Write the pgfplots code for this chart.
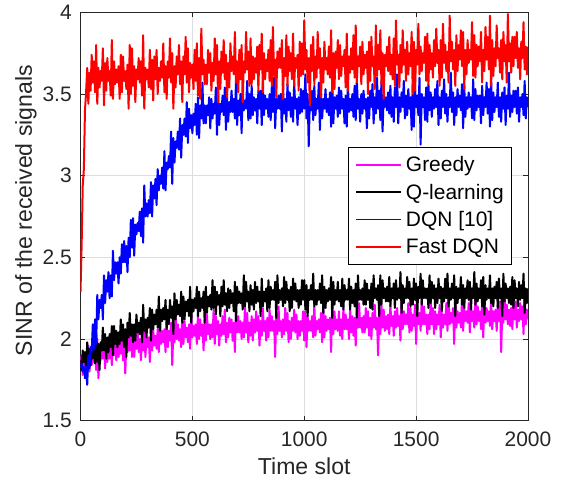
\documentclass[border=0pt]{standalone}
\usepackage{pgfplots}
\pgfplotsset{compat=1.18}
\usepackage{pgfplotstable}
\usepackage{fontspec}
\setmainfont{Liberation Sans}
\definecolor{axgray}{rgb}{0.15,0.15,0.15}
\definecolor{gridgray}{rgb}{0.87,0.87,0.87}
\definecolor{mmag}{rgb}{1,0,1}
\definecolor{mblue}{rgb}{0,0,1}
\definecolor{mred}{rgb}{1,0,0}
\pgfplotsset{
  mylegline/.style={legend image code/.code={\fill[##1] (0pt,-0.6pt) rectangle (33.75pt,0.6pt);}},
}
\pgfplotstableread{
x greedy qlearn dqn fast
0 1.82 1.87 1.83 2.29
5 1.90 1.81 1.85 2.57
10 1.78 1.93 1.80 2.94
15 1.88 1.86 1.83 3.04
20 1.92 1.92 1.76 3.40
25 1.76 1.80 1.83 3.51
30 1.84 1.98 1.72 3.66
35 1.96 1.87 1.90 3.44
40 1.80 1.94 1.82 3.63
45 1.91 1.84 1.95 3.52
50 1.84 1.95 1.92 3.74
55 1.91 1.88 2.09 3.57
60 1.86 1.99 1.94 3.70
65 1.95 1.85 2.12 3.51
70 1.81 2.04 1.97 3.80
75 2.00 1.86 2.27 3.44
80 1.76 1.97 2.12 3.66
85 1.93 1.81 2.24 3.54
90 1.87 1.98 2.19 3.64
95 1.94 1.93 2.27 3.58
100 1.88 2.07 2.12 3.78
105 2.02 1.93 2.39 3.43
110 1.82 2.03 2.22 3.69
115 1.97 1.88 2.36 3.52
120 1.86 2.01 2.29 3.72
125 1.95 1.92 2.41 3.58
130 1.88 2.03 2.25 3.64
135 1.97 1.95 2.39 3.49
140 1.84 2.08 2.26 3.83
145 2.02 1.90 2.54 3.47
150 1.90 2.08 2.36 3.70
155 2.01 1.97 2.47 3.56
160 1.87 2.05 2.40 3.65
165 1.98 1.95 2.47 3.57
170 1.89 2.04 2.34 3.67
175 1.97 1.97 2.50 3.47
180 1.91 2.12 2.40 3.74
185 2.04 1.99 2.58 3.51
190 1.87 2.09 2.47 3.73
195 2.02 1.95 2.60 3.58
200 1.79 2.06 2.47 3.64
205 1.98 1.89 2.57 3.53
210 1.92 2.10 2.41 3.68
215 2.02 2.01 2.62 3.41
220 1.93 2.16 2.50 3.80
225 2.08 2.02 2.73 3.50
230 1.89 2.09 2.56 3.78
235 2.00 1.98 2.74 3.55
240 1.89 2.09 2.51 3.67
245 1.99 1.99 2.70 3.45
250 1.94 2.15 2.64 3.65
255 2.06 2.04 2.71 3.59
260 1.92 2.10 2.66 3.72
265 2.00 2.03 2.78 3.57
270 1.87 2.13 2.63 3.70
275 2.02 1.98 2.80 3.49
280 1.93 2.21 2.59 3.86
285 2.10 2.05 2.94 3.41
290 1.89 2.12 2.75 3.66
295 2.01 2.01 2.83 3.59
300 1.95 2.13 2.75 3.65
305 2.01 2.07 2.85 3.54
310 1.86 2.19 2.77 3.77
315 2.06 1.99 2.96 3.53
320 1.93 2.18 2.75 3.71
325 2.06 2.06 2.94 3.46
330 1.96 2.15 2.86 3.73
335 2.02 2.09 2.98 3.59
340 1.94 2.18 2.82 3.77
345 2.06 2.07 3.04 3.50
350 1.92 2.26 2.91 3.66
355 2.13 2.05 3.00 3.58
360 1.97 2.18 2.95 3.70
365 2.05 2.11 3.05 3.60
370 1.98 2.19 2.92 3.81
375 2.06 2.12 3.15 3.51
380 1.92 2.24 2.91 3.67
385 2.10 2.06 3.08 3.47
390 1.95 2.18 3.04 3.70
395 2.05 2.09 3.12 3.60
400 1.99 2.24 3.05 3.84
405 2.10 2.13 3.27 3.57
410 1.84 2.20 2.95 3.75
415 2.05 2.03 3.23 3.41
420 1.98 2.28 3.08 3.67
425 2.14 2.12 3.21 3.54
430 2.00 2.24 3.17 3.73
435 2.09 2.15 3.27 3.62
440 1.99 2.21 3.16 3.80
445 2.06 2.14 3.35 3.56
450 1.95 2.29 3.11 3.70
455 2.14 2.10 3.31 3.45
460 1.97 2.26 3.25 3.73
465 2.11 2.12 3.35 3.62
470 2.01 2.23 3.24 3.85
475 2.07 2.17 3.45 3.57
480 1.98 2.24 3.20 3.78
485 2.09 2.14 3.41 3.51
490 1.94 2.32 3.29 3.69
495 2.16 2.10 3.37 3.60
500 2.01 2.24 3.26 3.68
505 2.08 2.17 3.38 3.53
510 2.02 2.25 3.31 3.77
515 2.09 2.19 3.44 3.58
520 1.97 2.32 3.25 3.81
525 2.15 2.14 3.48 3.49
530 2.00 2.29 3.23 3.72
535 2.12 2.17 3.43 3.47
540 2.02 2.25 3.35 3.90
545 2.09 2.19 3.57 3.62
550 1.93 2.29 3.32 3.71
555 2.12 2.10 3.43 3.56
560 1.99 2.32 3.32 3.68
565 2.15 2.16 3.43 3.56
570 2.03 2.26 3.37 3.77
575 2.09 2.20 3.48 3.63
580 2.00 2.27 3.29 3.75
585 2.09 2.18 3.47 3.52
590 2.01 2.36 3.35 3.69
595 2.18 2.19 3.44 3.58
600 1.97 2.32 3.38 3.84
605 2.14 2.15 3.54 3.62
610 2.03 2.29 3.25 3.80
615 2.11 2.21 3.51 3.45
620 1.96 2.27 3.31 3.70
625 2.09 2.14 3.44 3.53
630 2.02 2.32 3.39 3.76
635 2.14 2.20 3.49 3.63
640 2.03 2.36 3.37 3.83
645 2.18 2.21 3.54 3.59
650 1.98 2.28 3.28 3.74
655 2.10 2.17 3.48 3.48
660 2.01 2.31 3.33 3.69
665 2.13 2.19 3.45 3.54
670 2.04 2.30 3.39 3.81
675 2.12 2.22 3.52 3.64
680 1.99 2.28 3.39 3.73
685 2.10 2.17 3.47 3.62
690 1.92 2.35 3.35 3.88
695 2.17 2.11 3.58 3.57
700 2.04 2.32 3.31 3.70
705 2.14 2.22 3.46 3.51
710 2.04 2.29 3.37 3.77
715 2.11 2.22 3.50 3.59
720 2.00 2.28 3.26 3.80
725 2.10 2.18 3.52 3.45
730 2.01 2.39 3.40 3.70
735 2.20 2.20 3.46 3.63
740 2.04 2.35 3.41 3.88
745 2.16 2.23 3.58 3.65
750 1.98 2.29 3.34 3.76
755 2.10 2.17 3.50 3.55
760 2.02 2.33 3.35 3.84
765 2.14 2.21 3.55 3.56
770 1.99 2.30 3.37 3.73
775 2.12 2.18 3.48 3.59
780 2.04 2.35 3.40 3.72
785 2.17 2.22 3.47 3.63
790 2.05 2.32 3.32 3.79
795 2.14 2.23 3.52 3.52
800 1.96 2.29 3.41 3.80
805 2.11 2.14 3.52 3.65
810 2.02 2.37 3.31 3.87
815 2.19 2.20 3.57 3.51
820 2.05 2.29 3.37 3.75
825 2.11 2.23 3.49 3.59
830 1.99 2.31 3.41 3.71
835 2.13 2.17 3.47 3.64
840 2.01 2.36 3.36 3.77
845 2.18 2.19 3.50 3.58
850 2.05 2.32 3.34 3.83
855 2.14 2.24 3.55 3.55
860 2.05 2.30 3.39 3.91
865 2.11 2.24 3.60 3.61
870 1.89 2.35 3.29 3.71
875 2.16 2.13 3.47 3.48
880 2.03 2.39 3.41 3.76
885 2.20 2.22 3.49 3.66
890 2.05 2.30 3.41 3.78
895 2.11 2.24 3.50 3.66
900 2.01 2.31 3.27 3.83
905 2.12 2.20 3.54 3.47
910 2.03 2.38 3.38 3.72
915 2.19 2.22 3.47 3.61
920 2.05 2.35 3.33 3.86
925 2.16 2.24 3.56 3.55
930 1.98 2.30 3.40 3.79
935 2.11 2.17 3.51 3.64
940 2.00 2.32 3.36 3.75
945 2.13 2.19 3.48 3.59
950 2.05 2.37 3.33 3.87
955 2.18 2.24 3.57 3.55
960 2.04 2.34 3.41 3.72
965 2.15 2.23 3.47 3.66
970 2.00 2.30 3.31 3.74
975 2.11 2.19 3.48 3.52
980 2.02 2.30 3.38 3.82
985 2.11 2.21 3.53 3.61
990 2.05 2.36 3.39 3.81
995 2.17 2.24 3.52 3.62
1000 1.99 2.36 3.41 3.95
1005 2.17 2.18 3.62 3.65
1010 1.95 2.33 3.35 3.77
1015 2.14 2.14 3.50 3.57
1020 2.05 2.30 3.18 3.72
1025 2.11 2.24 3.47 3.43
1030 2.05 2.33 3.40 3.80
1035 2.14 2.24 3.52 3.64
1040 2.01 2.40 3.34 3.85
1045 2.21 2.20 3.55 3.56
1050 2.02 2.30 3.37 3.73
1055 2.11 2.21 3.47 3.60
1060 2.06 2.30 3.41 3.88
1065 2.12 2.24 3.57 3.66
1070 2.04 2.34 3.28 3.78
1075 2.16 2.22 3.50 3.48
1080 1.98 2.39 3.35 3.72
1085 2.21 2.16 3.47 3.57
1090 2.01 2.32 3.41 3.82
1095 2.14 2.19 3.53 3.65
1100 2.05 2.30 3.39 3.72
1105 2.12 2.23 3.47 3.62
1110 2.06 2.31 3.37 3.79
1115 2.13 2.24 3.51 3.60
1120 1.92 2.38 3.30 3.89
1125 2.20 2.13 3.58 3.51
1130 2.03 2.35 3.32 3.75
1135 2.17 2.21 3.48 3.53
1140 2.06 2.30 3.41 3.76
1145 2.12 2.24 3.49 3.66
1150 2.05 2.35 3.36 3.83
1155 2.17 2.23 3.54 3.59
1160 2.02 2.30 3.38 3.80
1165 2.12 2.20 3.52 3.61
1170 2.00 2.37 3.41 3.73
1175 2.19 2.18 3.47 3.67
1180 2.06 2.33 3.32 3.77
1185 2.15 2.24 3.49 3.54
1190 2.06 2.30 3.30 3.87
1195 2.12 2.24 3.56 3.52
1200 2.00 2.37 3.39 3.73
1205 2.19 2.18 3.47 3.63
1210 2.04 2.32 3.40 3.78
1215 2.14 2.22 3.50 3.65
1220 2.02 2.30 3.36 3.86
1225 2.13 2.20 3.55 3.60
1230 1.96 2.34 3.34 3.92
1235 2.17 2.13 3.59 3.57
1240 2.07 2.39 3.41 3.73
1245 2.22 2.24 3.47 3.67
1250 2.07 2.30 3.33 3.79
1255 2.13 2.24 3.50 3.56
1260 2.04 2.31 3.38 3.82
1265 2.14 2.21 3.52 3.62
1270 2.04 2.36 3.41 3.74
1275 2.19 2.21 3.47 3.66
1280 2.07 2.34 3.29 3.76
1285 2.17 2.24 3.48 3.50
1290 2.02 2.30 3.35 3.82
1295 2.13 2.19 3.52 3.58
1300 2.00 2.34 3.42 3.85
1305 2.16 2.18 3.56 3.67
1310 2.07 2.39 3.32 3.73
1315 2.21 2.25 3.48 3.53
1320 2.06 2.31 3.38 3.92
1325 2.13 2.24 3.60 3.61
1330 1.90 2.33 3.41 3.80
1335 2.15 2.14 3.52 3.65
1340 2.03 2.39 3.34 3.89
1345 2.21 2.21 3.58 3.56
1350 2.07 2.36 3.27 3.75
1355 2.18 2.25 3.49 3.47
1360 2.05 2.31 3.42 3.74
1365 2.14 2.23 3.48 3.67
1370 2.06 2.32 3.40 3.79
1375 2.15 2.23 3.51 3.64
1380 2.03 2.38 3.38 3.85
1385 2.21 2.20 3.55 3.62
1390 2.08 2.31 3.36 3.74
1395 2.14 2.25 3.48 3.59
1400 2.02 2.34 3.33 3.84
1405 2.17 2.19 3.54 3.55
1410 2.07 2.36 3.42 3.95
1415 2.19 2.24 3.62 3.68
1420 2.08 2.31 3.32 3.74
1425 2.14 2.25 3.48 3.54
1430 1.99 2.41 3.39 3.80
1435 2.25 2.16 3.51 3.63
1440 2.06 2.33 3.42 3.89
1445 2.17 2.22 3.58 3.68
1450 2.09 2.31 3.35 3.77
1455 2.15 2.25 3.49 3.58
1460 2.09 2.38 3.37 3.82
1465 2.22 2.25 3.53 3.62
1470 2.04 2.35 3.41 3.75
1475 2.19 2.20 3.48 3.67
1480 2.05 2.31 3.28 3.88
1485 2.15 2.21 3.56 3.50
1490 2.08 2.37 3.30 3.82
1495 2.21 2.24 3.52 3.52
1500 1.97 2.34 3.42 3.77
1505 2.18 2.14 3.49 3.68
1510 2.09 2.32 3.37 3.93
1515 2.16 2.25 3.60 3.62
1520 2.05 2.40 3.19 3.79
1525 2.24 2.21 3.50 3.64
1530 2.09 2.36 3.42 3.75
1535 2.20 2.25 3.48 3.69
1540 2.09 2.31 3.34 3.85
1545 2.15 2.25 3.54 3.58
1550 2.03 2.31 3.33 3.87
1555 2.15 2.19 3.56 3.56
1560 2.06 2.39 3.40 3.80
1565 2.23 2.22 3.51 3.65
1570 2.09 2.35 3.36 3.75
1575 2.19 2.25 3.48 3.60
1580 2.03 2.33 3.41 3.83
1585 2.17 2.19 3.53 3.67
1590 2.06 2.31 3.42 3.90
1595 2.15 2.22 3.58 3.69
1600 2.09 2.37 3.31 3.77
1605 2.21 2.25 3.48 3.55
1610 2.01 2.32 3.35 3.83
1615 2.16 2.17 3.52 3.60
1620 2.07 2.31 3.42 3.93
1625 2.15 2.23 3.59 3.69
1630 2.09 2.37 3.38 3.80
1635 2.22 2.25 3.50 3.64
1640 2.05 2.40 3.33 3.76
1645 2.25 2.20 3.48 3.57
1650 2.09 2.31 3.42 3.98
1655 2.16 2.24 3.63 3.70
1660 2.10 2.34 3.39 3.82
1665 2.19 2.25 3.51 3.65
1670 1.97 2.39 3.31 3.77
1675 2.24 2.14 3.48 3.55
1680 2.07 2.32 3.37 3.86
1685 2.17 2.22 3.53 3.64
1690 2.10 2.31 3.42 3.80
1695 2.16 2.25 3.49 3.71
1700 2.07 2.38 3.40 3.89
1705 2.24 2.21 3.56 3.67
1710 2.05 2.33 3.29 3.88
1715 2.19 2.19 3.55 3.53
1720 2.11 2.31 3.36 3.77
1725 2.17 2.25 3.48 3.62
1730 2.10 2.36 3.41 3.83
1735 2.22 2.24 3.51 3.69
1740 2.04 2.35 3.42 3.77
1745 2.21 2.18 3.48 3.71
1750 2.11 2.31 3.35 3.94
1755 2.17 2.25 3.59 3.61
1760 2.07 2.41 3.34 3.86
1765 2.27 2.21 3.53 3.60
1770 2.09 2.34 3.40 3.80
1775 2.20 2.23 3.49 3.67
1780 2.11 2.31 3.42 3.79
1785 2.17 2.25 3.49 3.70
1790 2.06 2.36 3.32 3.88
1795 2.22 2.20 3.55 3.57
1800 2.01 2.38 3.37 3.77
1805 2.24 2.15 3.48 3.64
1810 2.10 2.33 3.42 3.91
1815 2.19 2.24 3.57 3.71
1820 2.11 2.31 3.38 3.85
1825 2.17 2.25 3.53 3.65
1830 2.08 2.39 3.30 3.98
1835 2.25 2.22 3.61 3.55
1840 2.06 2.31 3.34 3.83
1845 2.17 2.20 3.51 3.61
1850 2.11 2.32 3.39 3.78
1855 2.18 2.25 3.48 3.67
1860 2.05 2.35 3.42 3.92
1865 2.21 2.19 3.57 3.72
1870 2.11 2.37 3.36 3.78
1875 2.23 2.25 3.48 3.63
1880 1.92 2.31 3.33 3.83
1885 2.17 2.14 3.51 3.59
1890 2.10 2.40 3.41 3.88
1895 2.27 2.23 3.54 3.70
1900 2.12 2.34 3.31 3.80
1905 2.21 2.25 3.49 3.57
1910 2.09 2.31 3.41 3.99
1915 2.18 2.22 3.63 3.70
1920 2.08 2.32 3.36 3.81
1925 2.19 2.21 3.49 3.63
1930 2.06 2.38 3.39 3.85
1935 2.25 2.19 3.52 3.67
1940 2.12 2.36 3.42 3.85
1945 2.23 2.25 3.52 3.72
1950 2.07 2.31 3.38 3.88
1955 2.18 2.20 3.54 3.66
1960 2.11 2.35 3.33 3.78
1965 2.22 2.24 3.48 3.59
1970 2.12 2.33 3.42 3.82
1975 2.20 2.25 3.50 3.72
1980 2.03 2.40 3.37 3.94
1985 2.27 2.16 3.58 3.65
1990 2.09 2.31 3.35 3.79
1995 2.18 2.22 3.48 3.62
2000 2.12 2.31 3.42 3.79
}\datatable

\begin{document}
\begin{tikzpicture}
\useasboundingbox (-60.375pt,-45.975pt) rectangle (361.875pt,315.525pt);
\begin{axis}[
  at={(0pt,0pt)}, anchor=south west,
  scale only axis, width=335.625pt, height=306.3pt,
  xmin=0, xmax=2000, ymin=1.5, ymax=4,
  xtick={0,500,1000,1500,2000},
  ytick={1.5,2,2.5,3,3.5,4},
  scaled x ticks=false,
  /pgf/number format/1000 sep={},
  /pgf/number format/assume math mode=true,
  tick align=inside, tick pos=both, major tick length=3.4pt,
  axis line style={axgray, line width=0.6pt},
  every tick/.style={axgray, line width=0.6pt},
  grid=major, major grid style={gridgray, line width=0.5pt},
  ticklabel style={font=\fontsize{15.7}{18}\selectfont, text=axgray},
  xticklabel style={anchor=north, inner sep=0pt, yshift=-8.5pt},
  yticklabel style={anchor=east, inner sep=0pt, xshift=-6.4pt},
  xlabel={Time slot},
  ylabel={SINR of the received signals},
  label style={font=\fontsize{17.3}{20}\selectfont, text=axgray},
  xlabel style={at={([yshift=-40pt]axis description cs:0.5,0)}, anchor=base},
  ylabel style={at={([xshift=-36.5pt,yshift=4.5pt]axis description cs:0,0.5)}, anchor=base},
  legend style={at={(axis description cs:0.9642,0.6702)}, anchor=north east,
    draw=black, fill=white, inner xsep=6pt, inner ysep=2.9pt,
    font=\fontsize{15.7}{18}\selectfont,
    nodes={inner xsep=0pt, inner ysep=2.95pt, text height=12.6pt, text depth=2pt},
    /tikz/every odd column/.append style={column sep=3.75pt}},
  legend cell align=left,
  mylegline,
  every axis plot/.append style={line width=1.5pt, line join=round},
]
\addlegendimage{draw=none, fill=mmag}
\addlegendentry{Greedy}
\addlegendimage{draw=none, fill=black}
\addlegendentry{Q-learning}
\addlegendimage{draw=none, fill=mblue}
\addlegendentry{DQN {[}10{]}}
\addlegendimage{draw=none, fill=mred}
\addlegendentry{Fast DQN}
\addplot[color=mmag, forget plot] table[x=x, y=greedy] {\datatable};
\addplot[color=black, forget plot] table[x=x, y=qlearn] {\datatable};
\addplot[color=mblue, forget plot] table[x=x, y=dqn] {\datatable};
\addplot[color=mred, forget plot] table[x=x, y=fast] {\datatable};
\end{axis}
\end{tikzpicture}
\end{document}
